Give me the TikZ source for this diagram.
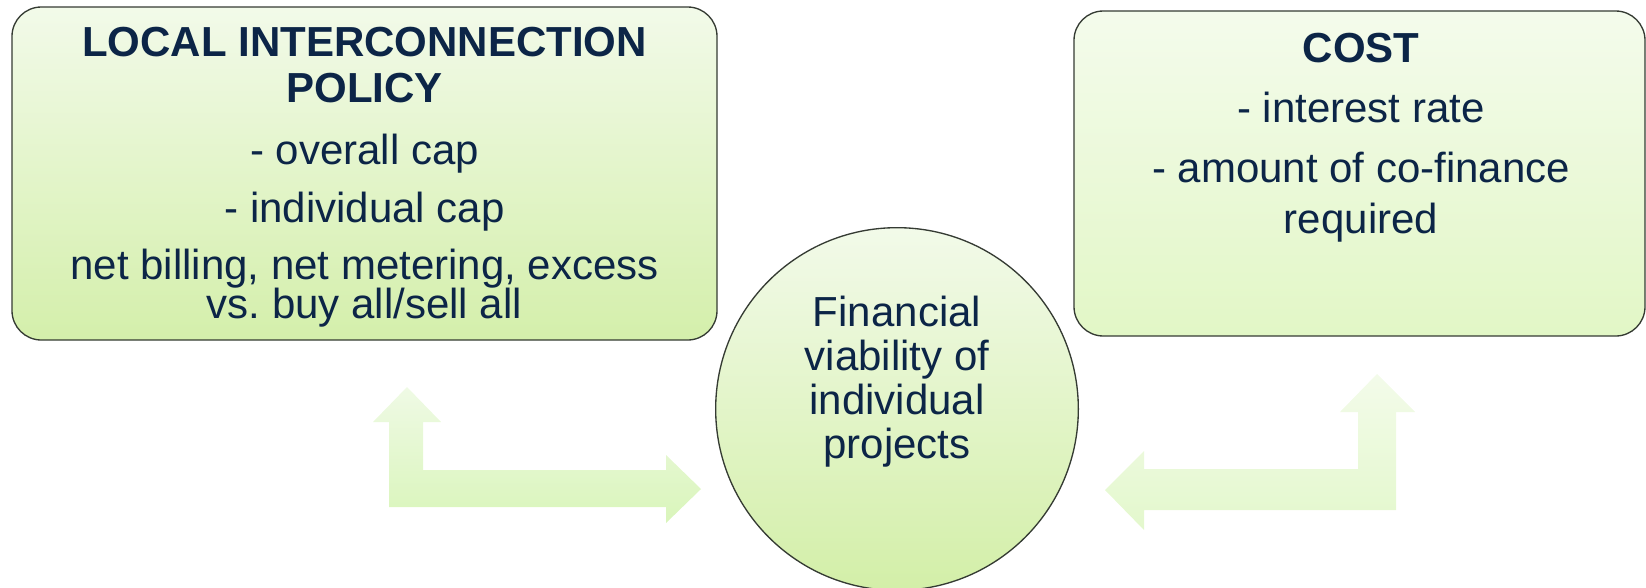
\documentclass[tikz,border=0pt]{standalone}
\usepackage{fontspec}
\setmainfont{Liberation Sans}
\usetikzlibrary{fit}
\definecolor{txtc}{HTML}{0C2547}
\definecolor{edgec}{HTML}{353B33}
\definecolor{lboxtop}{HTML}{F2FAE9}
\definecolor{lboxbot}{HTML}{D4EFAB}
\definecolor{rboxtop}{HTML}{F4FBEC}
\definecolor{rboxbot}{HTML}{E2F7C6}
\definecolor{circtop}{HTML}{F2FAE9}
\definecolor{circbot}{HTML}{D3EFA8}
\definecolor{arltop}{HTML}{EFFAE5}
\definecolor{arlbot}{HTML}{D9F5BA}
\definecolor{arrtop}{HTML}{F3FBEA}
\definecolor{arrbot}{HTML}{E3F8CC}
\tikzset{
  boxshape/.style={draw=edgec, line width=1pt, rounded corners=22pt, inner sep=0pt},
  txtline/.style={text=txtc, font=\fontsize{31.5}{36}\selectfont, anchor=base, inner sep=0pt},
  titleline/.style={txtline, font=\fontsize{31.5}{36}\selectfont\bfseries},
}
\frenchspacing
\begin{document}
\frenchspacing
\begin{tikzpicture}[x=0.75pt,y=-0.75pt]
\useasboundingbox (0,0) rectangle (1646,587);
\clip (0,0) rectangle (1646,587);

% boxes
\node[boxshape, top color=lboxtop, bottom color=lboxbot, fit={(12,7) (717,340)}] (lbox) {};
\node[boxshape, top color=rboxtop, bottom color=rboxbot, fit={(1074,11) (1645,336)}] (rbox) {};
\node[circle, draw=edgec, line width=1pt, top color=circtop, bottom color=circbot,
      minimum size=272pt, inner sep=0pt] (circ) at (897,409) {};

% block arrows
\shade[top color=arltop, bottom color=arlbot]
  (389,507) -- (389,422) -- (373,422) -- (407,387) -- (441,422) -- (423,422)
  -- (423,470) -- (666,470) -- (666,455) -- (701,489) -- (666,523) -- (666,507) -- cycle;
\shade[top color=arrtop, bottom color=arrbot]
  (1396,510) -- (1396,412) -- (1415,412) -- (1377,374) -- (1340,412) -- (1358,412)
  -- (1358,469) -- (1144,469) -- (1144,451) -- (1105,490) -- (1144,530) -- (1144,510) -- cycle;

% left box text
\node[titleline] (lt1) at (364.5,56) {LOCAL INTERCONNECTION};
\node[titleline] (lt2) at (364.5,102) {POLICY};
\node[txtline] (l1) at (364.5,164) {- overall cap};
\node[txtline] (l2) at (364.5,222) {- individual cap};
\node[txtline] (l3) at (364.5,279) {net billing, net metering, excess};
\node[txtline] (l4) at (364.5,318) {vs.\ buy all/sell all};

% right box text
\node[titleline] (rt1) at (1361,62) {COST};
\node[txtline] (r1) at (1361,122) {- interest rate};
\node[txtline] (r2) at (1361,182) {- amount of co-finance};
\node[txtline] (r3) at (1361,233) {required};

% circle text
\node[txtline] (c1) at (897,326) {Financial};
\node[txtline] (c2) at (897,370) {viability of};
\node[txtline] (c3) at (897,414) {individual};
\node[txtline] (c4) at (897,458) {projects};
\end{tikzpicture}
\end{document}
